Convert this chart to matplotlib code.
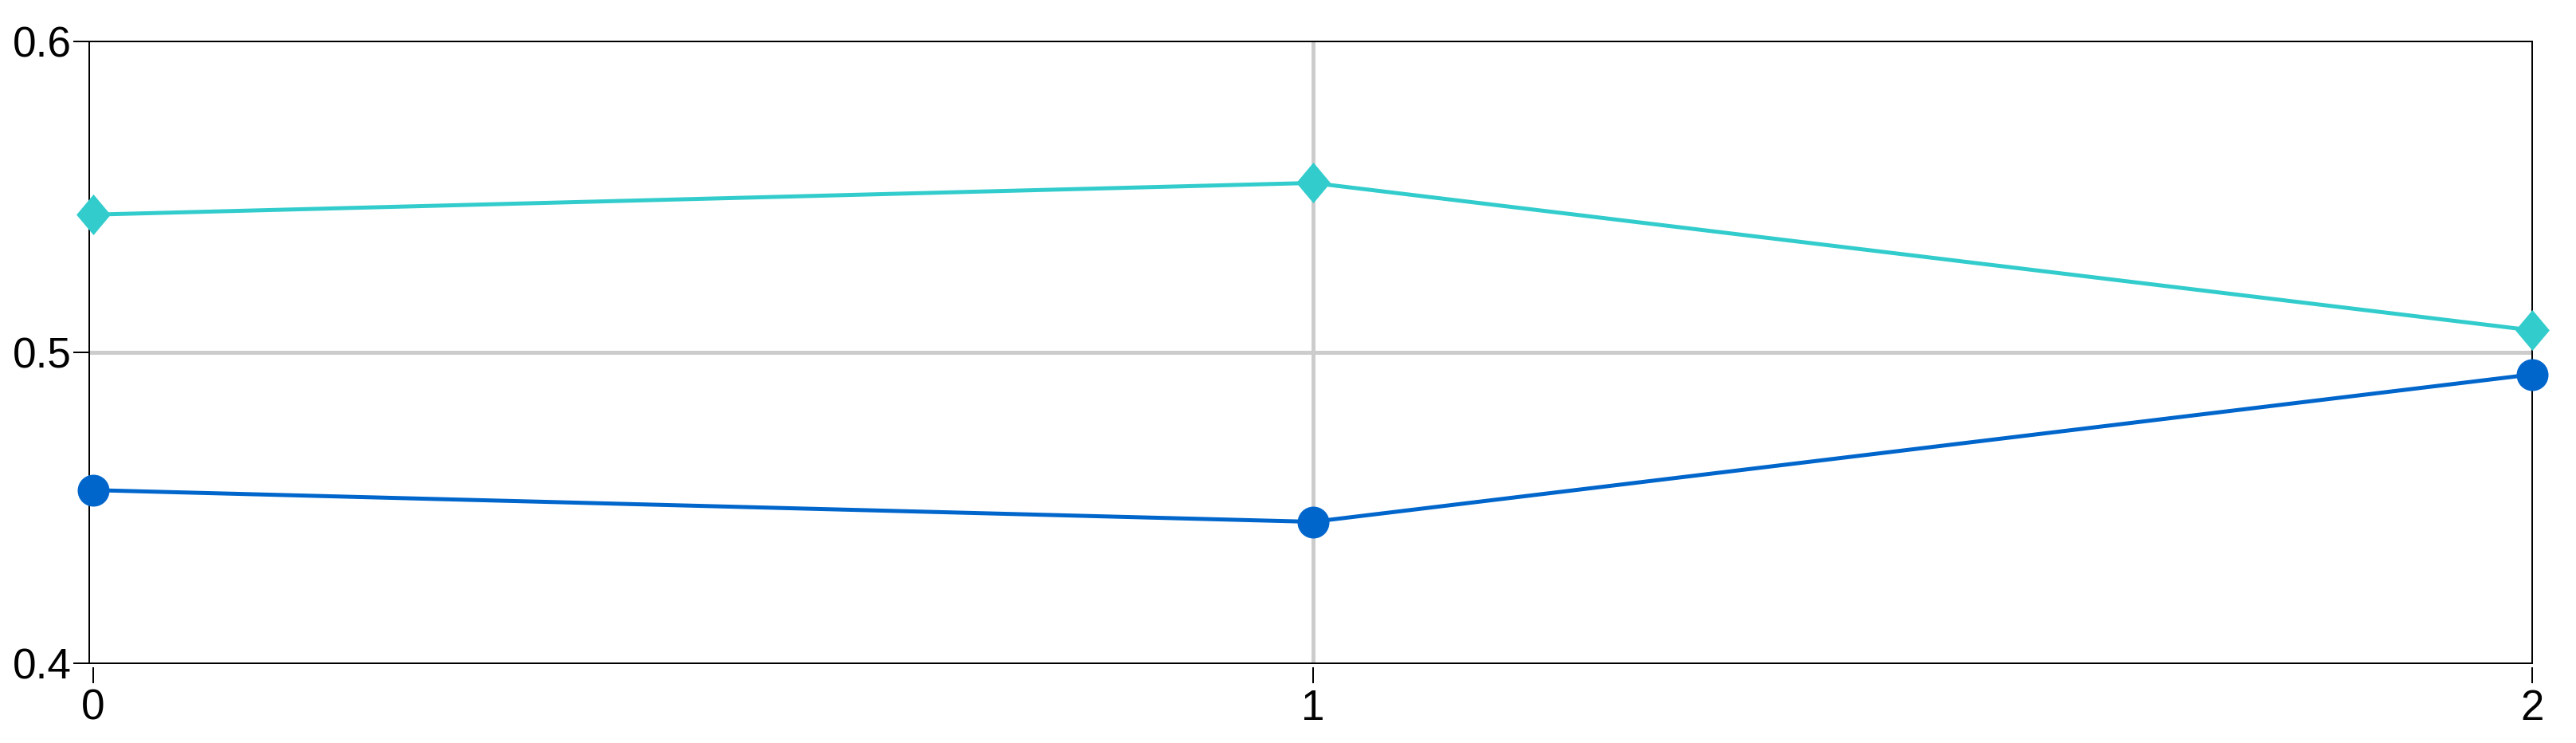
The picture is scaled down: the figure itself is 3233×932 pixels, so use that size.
import matplotlib
matplotlib.use("Agg")
import matplotlib.pyplot as plt
from matplotlib.patches import Rectangle

# ---- data ----
x_values = [0, 1, 2]
series_a = [0.5443, 0.5545, 0.5071]   # turquoise diamonds
series_b = [0.4557, 0.4455, 0.4929]   # blue circles
y_ticks = [0.4, 0.5, 0.6]
y_tick_labels = ["0.4", "0.5", "0.6"]
x_ticks = [0, 1, 2]
x_tick_labels = ["0", "1", "2"]

plt.rcParams['font.family'] = ['Liberation Sans', 'DejaVu Sans']

DPI = 72
def px(v):
    return v * 72.0 / DPI

fig = plt.figure(figsize=(3233 / DPI, 932 / DPI), dpi=DPI)
ax = fig.add_axes([0.03464, 0.10730, 0.98299 - 0.03464, 0.94421 - 0.10730])

diamond = [(0, 1), (0.84, 0), (0, -1), (-0.84, 0), (0, 1)]

ax.plot(x_values, series_a, color="#33CCCC", lw=px(5), marker=diamond,
        markersize=px(51), markeredgewidth=0, zorder=3, clip_on=False)
ax.plot(x_values, series_b, color="#0066CC", lw=px(5), marker="o",
        markersize=px(40), markeredgewidth=0, zorder=3, clip_on=False)

ax.set_xlim(-0.0033, 2)
ax.set_ylim(0.4, 0.6)
ax.set_xticks(x_ticks)
ax.set_xticklabels(x_tick_labels)
ax.set_yticks(y_ticks)
ax.set_yticklabels(y_tick_labels)

# interior grid lines only
ax.axhline(y_ticks[1], color="#CCCCCC", lw=px(5), zorder=1)
ax.axvline(x_ticks[1], color="#CCCCCC", lw=px(5), zorder=1)

for s in ax.spines.values():
    s.set_linewidth(px(2))
    s.set_color("black")
ax.spines['bottom'].set_position(('outward', px(5)))
ax.spines['bottom'].set_visible(False)
ax.add_patch(Rectangle((0, 0), 1, 1, transform=ax.transAxes, fill=False,
                       edgecolor="black", lw=px(2), zorder=2.6, clip_on=False))

ax.tick_params(axis='both', direction='out', length=px(20), width=px(2),
               labelsize=px(53), colors='black')
ax.tick_params(axis='y', pad=px(2))
ax.tick_params(axis='x', pad=px(7))

fig.savefig("out.png", dpi=DPI)
